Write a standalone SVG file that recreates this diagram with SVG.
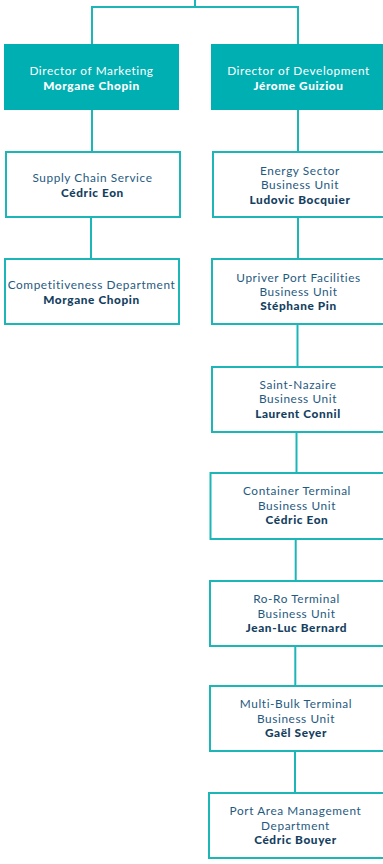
<svg xmlns="http://www.w3.org/2000/svg" width="383" height="864" viewBox="0 0 383 864">
<style>
.box{fill:#ffffff;stroke:#1cb5b8;stroke-width:2}
.dir{fill:#00afb2;stroke:none}
.ln{stroke:#1cb5b8;stroke-width:2;fill:none}
text{font-family:Lato,"Liberation Sans",sans-serif;font-size:11.8px;letter-spacing:0.6px;text-anchor:middle}
.t{fill:#1f5a80}
.b{fill:#163f5f;font-weight:900}
.w{fill:#ffffff}
.wb{fill:#ffffff;font-weight:900}
</style>
<rect width="383" height="864" fill="#ffffff"/>
<g id="connectors">
<path class="ln" d="M195,0 V7 M92,7 H298 M92,6 V44 M298,6 V44"/>
<path class="ln" d="M92,110 V152 M298,110 V152"/>
<path class="ln" d="M91,217 V259"/>
<path class="ln" d="M298,217 V259"/>
<path class="ln" d="M297.5,324 V367"/>
<path class="ln" d="M296.5,432 V473"/>
<path class="ln" d="M295.7,539 V581"/>
<path class="ln" d="M295.3,646 V686"/>
<path class="ln" d="M295,751 V793"/>
</g>
<g id="marketing">
<rect class="dir" x="4" y="44" width="175" height="66"/>
<text class="w" x="91.5" y="75">Director of Marketing</text>
<text class="wb" x="91.5" y="89.5">Morgane Chopin</text>
</g>
<g id="development">
<rect class="dir" x="211" y="44" width="175" height="66"/>
<text class="w" x="298.5" y="75">Director of Development</text>
<text class="wb" x="298.5" y="89.5">Jérome Guiziou</text>
</g>
<g id="supply">
<rect class="box" x="6" y="152" width="174" height="65"/>
<text class="t" x="92.5" y="182">Supply Chain Service</text>
<text class="b" x="92.5" y="197">Cédric Eon</text>
</g>
<g id="competitiveness">
<rect class="box" x="5" y="259" width="174" height="65"/>
<text class="t" x="91.5" y="289">Competitiveness Department</text>
<text class="b" x="91.5" y="304">Morgane Chopin</text>
</g>
<g id="energy">
<rect class="box" x="213" y="152" width="175" height="65"/>
<text class="t" x="300" y="175">Energy Sector</text>
<text class="t" x="300" y="189.3">Business Unit</text>
<text class="b" x="300" y="203.6">Ludovic Bocquier</text>
</g>
<g id="upriver">
<rect class="box" x="212" y="259" width="175" height="65"/>
<text class="t" x="298.5" y="281.7">Upriver Port Facilities</text>
<text class="t" x="298.5" y="296">Business Unit</text>
<text class="b" x="298.5" y="310.3">Stéphane Pin</text>
</g>
<g id="saintnazaire">
<rect class="box" x="212" y="367" width="175" height="65"/>
<text class="t" x="298" y="388.5">Saint-Nazaire</text>
<text class="t" x="298" y="403">Business Unit</text>
<text class="b" x="298" y="417.5">Laurent Connil</text>
</g>
<g id="container">
<rect class="box" x="210.5" y="473" width="175" height="66"/>
<text class="t" x="297" y="495.3">Container Terminal</text>
<text class="t" x="297" y="509.8">Business Unit</text>
<text class="b" x="297" y="524.3">Cédric Eon</text>
</g>
<g id="roro">
<rect class="box" x="210" y="581" width="175" height="65"/>
<text class="t" x="296.5" y="603.3">Ro-Ro Terminal</text>
<text class="t" x="296.5" y="617.8">Business Unit</text>
<text class="b" x="296.5" y="632.3">Jean-Luc Bernard</text>
</g>
<g id="multibulk">
<rect class="box" x="210" y="686" width="175" height="65"/>
<text class="t" x="296" y="708.3">Multi-Bulk Terminal</text>
<text class="t" x="296" y="722.6">Business Unit</text>
<text class="b" x="296" y="737">Gaël Seyer</text>
</g>
<g id="portarea">
<rect class="box" x="209" y="793" width="175" height="65"/>
<text class="t" x="295.5" y="815">Port Area Management</text>
<text class="t" x="295.5" y="829.5">Department</text>
<text class="b" x="295.5" y="844">Cédric Bouyer</text>
</g>
</svg>
